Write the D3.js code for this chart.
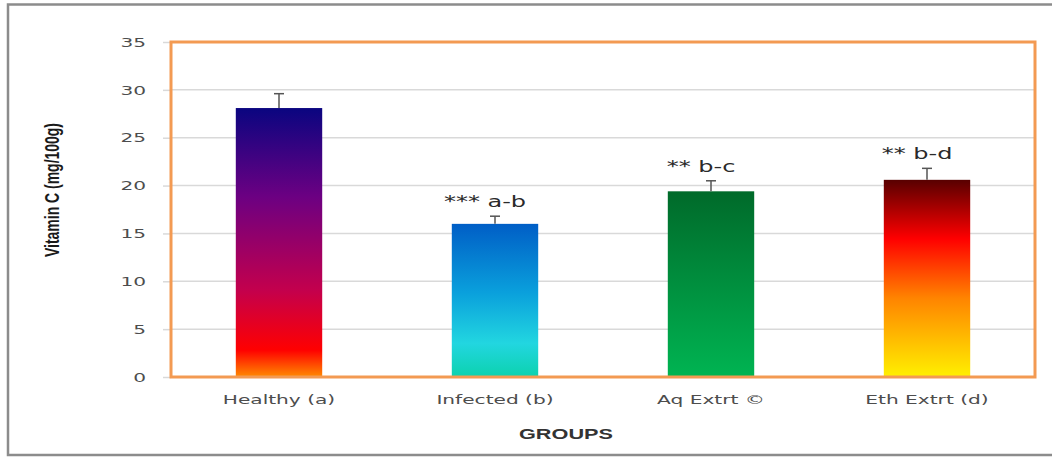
<!DOCTYPE html>
<html>
<head>
<meta charset="utf-8">
<script src="https://cdn.jsdelivr.net/npm/d3@7"></script>
<style>
  html, body { margin: 0; padding: 0; background: #fff; }
  svg { display: block; }
</style>
</head>
<body>
<svg id="chart" width="1052" height="457"></svg>
<script>
// Vitamin C content per group (mg/100g), with standard error
const groups = ["Healthy (a)", "Infected (b)", "Aq Extrt \u00A9", "Eth Extrt (d)"];
const values = [28.1, 16.0, 19.4, 20.6];
const errors = [1.5, 0.8, 1.1, 1.2];
const sigLabels = ["", "*** a-b", "** b-c", "** b-d"];
const yTicks = [0, 5, 10, 15, 20, 25, 30, 35];

// Vertical gradient stops for each bar (top -> bottom)
const gradients = [
  [[0, "#0a0580"], [0.33, "#6c0082"], [0.68, "#c4004c"], [0.9, "#ff0000"], [1, "#ff8a00"]],
  [[0, "#005ec6"], [0.45, "#0aa0dc"], [0.78, "#22d6e0"], [1, "#0cd2ae"]],
  [[0, "#006a2a"], [1, "#00b452"]],
  [[0, "#580000"], [0.3, "#ff0000"], [0.6, "#ff8400"], [1, "#fff000"]]
];

// Horizontal stretch applied to the wide chart lettering
const WIDE = 1.55;

const svg = d3.select("#chart");
const W = 1052, H = 457;
const margin = { left: 171, right: 17, top: 42, bottom: 80 };
const plotW = W - margin.left - margin.right;
const plotH = H - margin.top - margin.bottom;

// Outer chart frame (left, top, bottom edges)
svg.append("path")
  .attr("d", `M ${W} 4.5 H 8 V 455 H ${W}`)
  .attr("fill", "none")
  .attr("stroke", "#8c8c8c")
  .attr("stroke-width", 2.5);

const x = d3.scaleBand().domain(groups).range([0, plotW]).paddingInner(0.6).paddingOuter(0.3);
const y = d3.scaleLinear().domain([0, 35]).range([plotH, 0]);

const defs = svg.append("defs");
gradients.forEach((stops, i) => {
  const g = defs.append("linearGradient")
    .attr("id", "grad" + i)
    .attr("x1", 0).attr("y1", 0).attr("x2", 0).attr("y2", 1);
  stops.forEach(([o, c]) => g.append("stop").attr("offset", o).attr("stop-color", c));
});

const g = svg.append("g").attr("transform", `translate(${margin.left},${margin.top})`);

// Horizontal gridlines
g.append("g")
  .selectAll("line")
  .data(yTicks.filter(t => t > 0 && t < 35))
  .join("line")
  .attr("x1", 0).attr("x2", plotW)
  .attr("y1", d => y(d)).attr("y2", d => y(d))
  .attr("stroke", "#d9d9d9")
  .attr("stroke-width", 1.5);

// Y axis: ticks outside the plot border, labels to the left
const yAxis = d3.axisLeft(y).tickValues(yTicks).tickSize(8).tickPadding(17);
const yG = g.append("g").call(yAxis);
yG.select(".domain").remove();
yG.selectAll(".tick line").attr("stroke", "#d9d9d9").attr("stroke-width", 1.5);
yG.selectAll(".tick text")
  .attr("x", -25 / WIDE)
  .attr("transform", `scale(${WIDE},1)`)
  .attr("fill", "#4d4d4d")
  .style("font-family", "'DejaVu Sans', Verdana, sans-serif")
  .style("font-size", "13px");

// Bars
g.selectAll("rect.bar")
  .data(values)
  .join("rect")
  .attr("class", "bar")
  .attr("x", (d, i) => x(groups[i]))
  .attr("y", d => y(d))
  .attr("width", x.bandwidth())
  .attr("height", d => plotH - y(d))
  .attr("fill", (d, i) => `url(#grad${i})`);

// Error bars (upper whisker only)
const eb = g.append("g").attr("stroke", "#555").attr("stroke-width", 1.5);
values.forEach((v, i) => {
  const cx = x(groups[i]) + x.bandwidth() / 2;
  eb.append("line").attr("x1", cx).attr("x2", cx).attr("y1", y(v)).attr("y2", y(v + errors[i]));
  eb.append("line").attr("x1", cx - 5).attr("x2", cx + 5).attr("y1", y(v + errors[i])).attr("y2", y(v + errors[i]));
});

// Significance labels
g.selectAll("text.sig")
  .data(sigLabels)
  .join("text")
  .attr("class", "sig")
  .attr("transform", (d, i) =>
    `translate(${x(groups[i]) + x.bandwidth() / 2 - 10},${y(values[i] + errors[i]) - 9}) scale(1.6,1)`)
  .attr("text-anchor", "middle")
  .attr("fill", "#2a2a2a")
  .style("font-family", "'DejaVu Sans', Verdana, sans-serif")
  .style("font-size", "15px")
  .text(d => d);

// Plot area border
g.append("rect")
  .attr("x", 0).attr("y", 0)
  .attr("width", plotW).attr("height", plotH)
  .attr("fill", "none")
  .attr("stroke", "#f39a52")
  .attr("stroke-width", 3);

// X axis labels
const xAxis = d3.axisBottom(x).tickSize(0).tickPadding(18);
const xG = g.append("g").attr("transform", `translate(0,${plotH})`).call(xAxis);
xG.select(".domain").remove();
xG.selectAll(".tick text")
  .attr("transform", `scale(${WIDE},1)`)
  .attr("fill", "#4d4d4d")
  .style("font-family", "'DejaVu Sans', Verdana, sans-serif")
  .style("font-size", "13px");

// Axis titles
svg.append("text")
  .attr("transform", "translate(566,439) scale(1.55,1)")
  .attr("text-anchor", "middle")
  .attr("fill", "#333")
  .style("font-family", "'Liberation Sans', Arial, sans-serif")
  .style("font-weight", "bold")
  .style("font-size", "14px")
  .text("GROUPS");

svg.append("text")
  .attr("transform", "translate(59,190) scale(1.5,1) rotate(-90)")
  .attr("text-anchor", "middle")
  .attr("fill", "#1a1a1a")
  .style("font-family", "'Liberation Sans Narrow', 'Liberation Sans', Arial, sans-serif")
  .style("font-weight", "bold")
  .style("font-size", "13px")
  .attr("textLength", 134)
  .attr("lengthAdjust", "spacingAndGlyphs")
  .text("Vitamin C (mg/100g)");
</script>
</body>
</html>
